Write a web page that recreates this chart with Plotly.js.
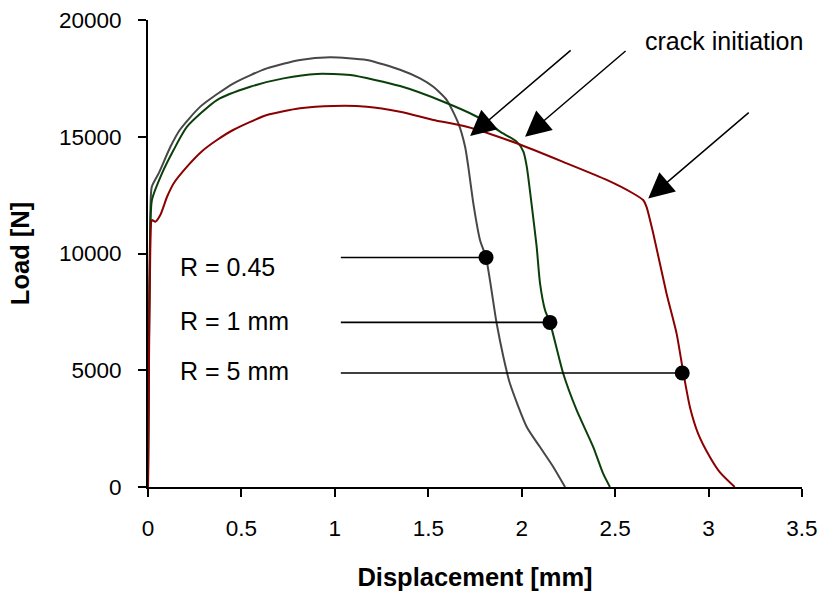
<!DOCTYPE html>
<html>
<head>
<meta charset="utf-8">
<script src="https://cdn.plot.ly/plotly-3.0.1.min.js"></script>
<style>
  html, body { margin: 0; padding: 0; background: #fff; }
  #chart { width: 824px; height: 598px; }
</style>
</head>
<body>
<div id="chart"></div>
<script>
// ---- data ----
const r045X = [0, 0.005, 0.012, 0.02, 0.057, 0.12, 0.17, 0.28, 0.458, 0.636, 0.814, 0.975, 1.171, 1.349, 1.456, 1.527, 1.599, 1.661, 1.697, 1.714, 1.741, 1.777, 1.809, 1.866, 1.902, 1.937, 2.027, 2.098, 2.169, 2.232];
const r045Y = [0, 6000, 11500, 12850, 13430, 14570, 15290, 16290, 17290, 17930, 18290, 18400, 18290, 17870, 17500, 17140, 16570, 15570, 14570, 13720, 12150, 10570, 9830, 7000, 5570, 4430, 2570, 1710, 860, 0];

const r1X = [0, 0.005, 0.012, 0.021, 0.075, 0.137, 0.209, 0.369, 0.547, 0.725, 0.904, 1.082, 1.349, 1.581, 1.777, 1.884, 1.973, 2.009, 2.027, 2.053, 2.080, 2.098, 2.125, 2.151, 2.222, 2.294, 2.383, 2.436, 2.472];
const r1Y = [0, 6000, 11000, 12290, 13430, 14430, 15430, 16570, 17140, 17500, 17690, 17640, 17170, 16500, 15790, 15220, 14790, 14360, 13720, 12100, 10290, 8720, 7570, 7050, 4860, 3290, 1710, 570, 0];

const r5X = [0, 0.005, 0.012, 0.021, 0.039, 0.066, 0.102, 0.137, 0.209, 0.289, 0.369, 0.458, 0.636, 0.814, 0.993, 1.171, 1.349, 1.527, 1.706, 1.973, 2.241, 2.455, 2.597, 2.650, 2.668, 2.704, 2.775, 2.829, 2.865, 2.900, 2.944, 3.007, 3.060, 3.14];
const r5Y = [0, 5000, 10000, 11430, 11360, 11650, 12430, 13000, 13720, 14380, 14860, 15300, 15930, 16220, 16320, 16290, 16070, 15720, 15430, 14720, 13860, 13150, 12570, 12290, 12000, 10860, 8290, 6570, 4890, 3430, 2290, 1290, 640, 0];

// labelled points (leader line start x, dot x, dot y)
const labelTexts = ['R = 0.45', 'R = 1 mm', 'R = 5 mm'];
const labelTextX = [0.16, 0.16, 0.16];
const labelTextY = [9429, 7110, 4968];
const leaderStartX = [1.032, 1.032, 1.032];
const dotX = [1.809, 2.151, 2.859];
const dotY = [9830, 7050, 4880];

// crack initiation arrows (tips)
const crackX = [1.724, 2.018, 2.677];
const crackY = [15030, 15000, 12360];
const crackLabel = 'crack initiation';
const crackLabelX = 2.649;
const crackLabelY = 19100;

const xTicks = [0, 0.5, 1, 1.5, 2, 2.5, 3, 3.5];
const yTicks = [0, 5000, 10000, 15000, 20000];

// ---- styles ----
const FONT = 'Liberation Sans, Arial, sans-serif';
const colors = ['#474747', '#0a3f0a', '#8b0000'];

const curveLine = c => ({color: c, width: 2, shape: 'spline', smoothing: 0.6});
const traces = [
  {x: r045X, y: r045Y, mode: 'lines', line: curveLine(colors[0]), hoverinfo: 'skip'},
  {x: r1X, y: r1Y, mode: 'lines', line: curveLine(colors[1]), hoverinfo: 'skip'},
  {x: r5X, y: r5Y, mode: 'lines', line: curveLine(colors[2]), hoverinfo: 'skip'}
];

for (let i = 0; i < dotX.length; i++) {
  traces.push({
    x: [leaderStartX[i], dotX[i]], y: [dotY[i], dotY[i]],
    mode: 'lines', line: {color: '#000', width: 1.6}, hoverinfo: 'skip'
  });
}
traces.push({
  x: dotX, y: dotY, mode: 'markers',
  marker: {color: '#000', size: 15}, hoverinfo: 'skip'
});

const annotations = [];
for (let i = 0; i < labelTexts.length; i++) {
  annotations.push({
    x: labelTextX[i], y: labelTextY[i], xref: 'x', yref: 'y',
    text: labelTexts[i], showarrow: false, xanchor: 'left', yanchor: 'middle',
    font: {family: FONT, size: 25, color: '#000'}
  });
}
for (let i = 0; i < crackX.length; i++) {
  annotations.push({
    x: crackX[i], y: crackY[i], xref: 'x', yref: 'y',
    text: '', showarrow: true, ax: 102, ay: -87,
    arrowhead: 2, arrowsize: 3.4, arrowwidth: 1.5, arrowcolor: '#000', standoff: 0
  });
}
annotations.push({
  x: crackLabelX, y: crackLabelY, xref: 'x', yref: 'y',
  text: crackLabel, showarrow: false, xanchor: 'left', yanchor: 'middle',
  font: {family: FONT, size: 25, color: '#000'}
});

const layout = {
  width: 824, height: 598,
  paper_bgcolor: '#fff', plot_bgcolor: '#fff',
  showlegend: false,
  margin: {l: 148, r: 22, t: 20, b: 111},
  font: {family: FONT, color: '#000'},
  xaxis: {
    range: [0, 3.5], tickvals: xTicks, ticktext: xTicks.map(String),
    showgrid: false, zeroline: false, showline: true, linecolor: '#000', linewidth: 2,
    ticks: 'outside', ticklen: 8, tickwidth: 2, tickcolor: '#000',
    ticklabelstandoff: 12,
    tickfont: {family: FONT, size: 22.5, color: '#000'},
    title: {text: '<b>Displacement [mm]</b>', font: {family: FONT, size: 25.5, color: '#000'}, standoff: 28}
  },
  yaxis: {
    range: [0, 20000], tickvals: yTicks, ticktext: yTicks.map(String),
    showgrid: false, zeroline: false, showline: true, linecolor: '#000', linewidth: 2,
    ticks: 'outside', ticklen: 8, tickwidth: 2, tickcolor: '#000',
    ticklabelstandoff: 12,
    tickfont: {family: FONT, size: 22.5, color: '#000'},
    title: {text: '<b>Load [N]</b>', font: {family: FONT, size: 25.5, color: '#000'}, standoff: 22}
  },
  annotations: annotations
};

Plotly.newPlot('chart', traces, layout, {displayModeBar: false, staticPlot: true});
</script>
</body>
</html>
